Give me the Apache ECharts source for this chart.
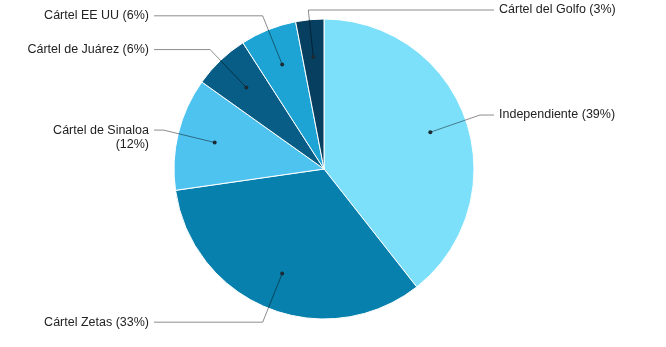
<!DOCTYPE html>
<html>
<head>
<meta charset="utf-8">
<script src="https://cdn.jsdelivr.net/npm/echarts@6/dist/echarts.min.js"></script>
<style>
html,body{margin:0;padding:0;background:#fff;}
#c{width:666px;height:347px;}
</style>
</head>
<body>
<div id="c"></div>
<script>
const categories = ['Independiente', 'Cártel Zetas', 'Cártel de Sinaloa', 'Cártel de Juárez', 'Cártel EE UU', 'Cártel del Golfo'];
const values = [39, 33, 12, 6, 6, 3];
const colors = ['#7de0fb', '#0880ad', '#4ec3ef', '#075d86', '#1ea4d4', '#063f5f'];

// layout
const CX = 324, CY = 169, R = 150;
const DOT_R = 0.75, ELBOW_R = 1.1, END_OFF = 20, GAP = 5, LH = 14, TOP_MIN = 10;
const FONT = '12.5px "Liberation Sans", Arial, sans-serif';
const MAX_LABEL_W = 127;

const measureCtx = document.createElement('canvas').getContext('2d');
measureCtx.font = FONT;
function labelText(i) {
  const full = categories[i] + ' (' + values[i] + '%)';
  if (measureCtx.measureText(full).width > MAX_LABEL_W) {
    return categories[i] + '\n(' + values[i] + '%)';
  }
  return full;
}

const total = values.reduce((a, b) => a + b, 0);
const mids = [];
let acc = 0;
values.forEach(v => { mids.push(acc + v / 2); acc += v; });

function renderLabel(params, api) {
  const i = params.dataIndex;
  const m = api.value(1);
  const c = api.coord([0, m]);
  const p0 = api.coord([DOT_R, m]);
  const p1 = api.coord([ELBOW_R, m]);
  if (p1[1] < TOP_MIN) p1[1] = TOP_MIN;
  const left = (p1[0] - c[0]) < -0.15 * R;
  const p2 = [left ? c[0] - R - END_OFF : c[0] + R + END_OFF, p1[1]];
  return {
    type: 'group',
    children: [
      {
        type: 'polyline',
        shape: { points: [p0, p1, p2] },
        style: { stroke: 'rgba(0,0,0,0.45)', lineWidth: 1, fill: null }
      },
      {
        type: 'circle',
        shape: { cx: p0[0], cy: p0[1], r: 2 },
        style: { fill: '#1c2a33' }
      },
      {
        type: 'text',
        style: {
          text: labelText(i),
          x: left ? p2[0] - GAP : p2[0] + GAP,
          y: p2[1] - LH / 2,
          align: left ? 'right' : 'left',
          verticalAlign: 'top',
          font: FONT,
          fill: '#222222',
          lineHeight: LH
        }
      }
    ]
  };
}

const chart = echarts.init(document.getElementById('c'), null, { renderer: 'canvas' });
chart.setOption({
  animation: false,
  backgroundColor: '#ffffff',
  polar: { center: [CX, CY], radius: R },
  angleAxis: { type: 'value', min: 0, max: total, startAngle: 90, clockwise: true, show: false },
  radiusAxis: { type: 'value', min: 0, max: 1, show: false },
  series: [
    {
      type: 'pie',
      center: [CX, CY],
      radius: R,
      startAngle: 90,
      clockwise: true,
      data: categories.map((c, i) => ({ name: c, value: values[i], itemStyle: { color: colors[i] } })),
      itemStyle: { borderColor: '#ffffff', borderWidth: 1 },
      emphasis: { disabled: true },
      label: { show: false },
      labelLine: { show: false }
    },
    {
      type: 'custom',
      coordinateSystem: 'polar',
      z: 10,
      silent: true,
      renderItem: renderLabel,
      data: mids.map(m => [DOT_R, m])
    }
  ]
});
</script>
</body>
</html>
